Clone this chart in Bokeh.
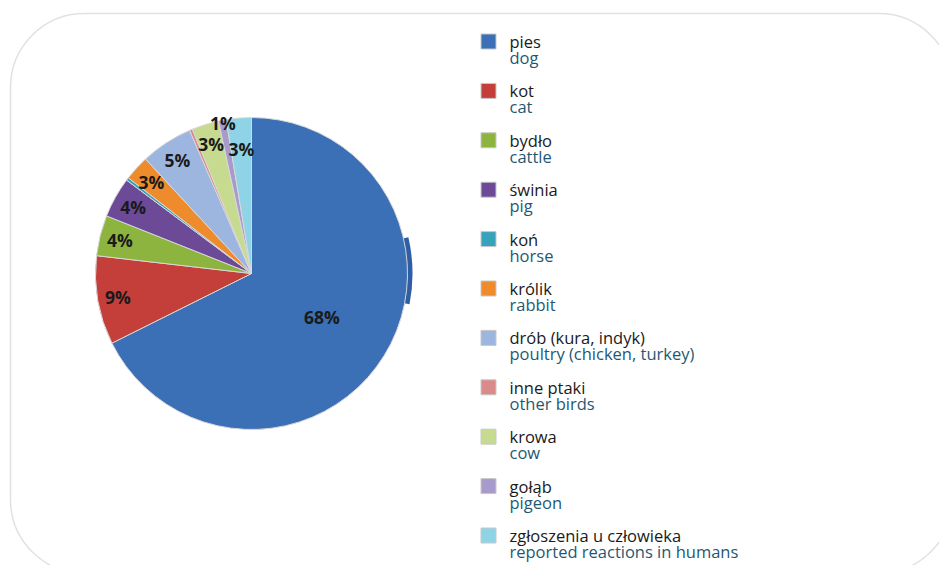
import math
from bokeh.plotting import figure
from bokeh.models import Range1d, BoxAnnotation, ColumnDataSource
from bokeh.core.properties import value
from bokeh.embed import file_html
from bokeh.resources import INLINE

# ---- data ----
categories_pl = ["pies", "kot", "bydło", "świnia", "koń", "królik",
                 "drób (kura, indyk)", "inne ptaki", "krowa", "gołąb",
                 "zgłoszenia u człowieka"]
categories_en = ["dog", "cat", "cattle", "pig", "horse", "rabbit",
                 "poultry (chicken, turkey)", "other birds", "cow", "pigeon",
                 "reported reactions in humans"]
shares = [67.7, 9.2, 4.2, 4.2, 0.3, 2.6, 5.4, 0.3, 2.8, 0.8, 2.6]
pct_labels = ["68%", "9%", "4%", "4%", "", "3%", "5%", "", "3%", "1%", "3%"]

# ---- style ----
colors = ["#3B6FB6", "#C43F3A", "#8DB43E", "#6C4A98", "#37A2BC", "#EE8B2C",
          "#9DB6DF", "#DA8A8A", "#C6DB8F", "#A79BCB", "#8ED3E6"]
label_r = [0.53, 0.87, 0.87, 0.87, 0.87, 0.87, 0.87, 0.87, 0.87, 0.98, 0.80]

W, H = 939, 565
cx, cy, R = 251, H - 273, 156

p = figure(width=W, height=H, x_range=Range1d(0, W), y_range=Range1d(0, H),
           output_backend="svg", toolbar_location=None, min_border=0)
p.axis.visible = False
p.grid.visible = False
p.outline_line_color = None
p.background_fill_color = "white"
p.border_fill_color = "white"

# rounded frame
p.add_layout(BoxAnnotation(left=10, right=952, bottom=H - 573, top=H - 13,
                           fill_color=None, fill_alpha=0, line_color="#9c9c9c",
                           line_width=1.5, border_radius=74))

# pie wedges (clockwise from 12 o'clock)
total = sum(shares)
starts, ends, mids = [], [], []
c = 0.0
for s in shares:
    c0, c1 = c / total, (c + s) / total
    starts.append(math.pi / 2 - 2 * math.pi * c1)
    ends.append(math.pi / 2 - 2 * math.pi * c0)
    mids.append(math.pi / 2 - 2 * math.pi * (c0 + c1) / 2)
    c += s

# 3D side hint on the right
p.annular_wedge(x=cx, y=cy, inner_radius=R - 3, outer_radius=R + 5,
                start_angle=math.radians(-11), end_angle=math.radians(13),
                fill_color="#2F5FA2", line_color=None)

src = ColumnDataSource(dict(start=starts, end=ends, color=colors))
p.wedge(x=cx, y=cy, radius=R, start_angle="start", end_angle="end",
        fill_color="color", line_color="#d8d8d8", line_width=1, source=src)

# percentage labels
lx = [cx + R * f * math.cos(a) for f, a in zip(label_r, mids)]
ly = [cy + R * f * math.sin(a) for f, a in zip(label_r, mids)]
p.text(x=lx, y=ly, text=pct_labels, text_font=value("Open Sans"),
       text_font_size="17.5px", text_font_style="bold", text_color="#1a1a1a",
       text_align="center", text_baseline="middle")

# legend
step = 49.4
top_y = H - 41
ys = [top_y - i * step for i in range(len(categories_pl))]
p.scatter(x=[488] * len(ys), y=ys, marker="square", size=15,
          fill_color=colors, line_color="#c8c8c8", line_width=1)
p.text(x=[509] * len(ys), y=ys, text=categories_pl, text_font=value("Open Sans"),
       text_font_size="16.5px", text_color="#1a1a1a",
       text_align="left", text_baseline="middle")
p.text(x=[509] * len(ys), y=[y - 16 for y in ys], text=categories_en,
       text_font=value("Open Sans"), text_font_size="16.5px", text_color="#1F5873",
       text_align="left", text_baseline="middle")

open("out.html", "w").write(file_html(p, INLINE))
